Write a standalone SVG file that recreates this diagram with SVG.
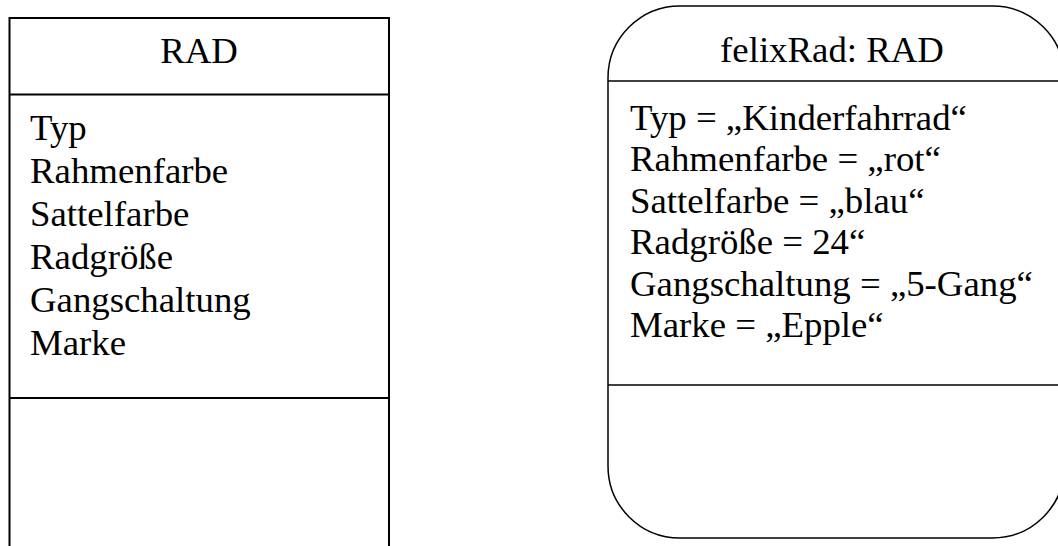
<svg xmlns="http://www.w3.org/2000/svg" width="1058" height="546" viewBox="0 0 1058 546">
<style>
.t{font-family:"Liberation Serif","Times New Roman",serif;font-size:36.8px;fill:#000}
.c{text-anchor:middle}
.b{fill:#fff;stroke:#000}
.l{stroke:#000;fill:none}
</style>
<rect width="1058" height="546" fill="#fff"/>
<g id="class-rad">
<path class="b" stroke-width="2" d="M9.5,546 V18 H389 V546"/>
<line class="l" stroke-width="2" x1="9.5" y1="94.5" x2="389" y2="94.5"/>
<line class="l" stroke-width="2" x1="9.5" y1="398" x2="389" y2="398"/>
<text class="t c" x="199" y="62.5">RAD</text>
<text class="t" x="30" y="140">Typ</text>
<text class="t" x="30" y="183">Rahmenfarbe</text>
<text class="t" x="30" y="226">Sattelfarbe</text>
<text class="t" x="30" y="269">Radgröße</text>
<text class="t" x="30" y="312">Gangschaltung</text>
<text class="t" x="30" y="355">Marke</text>
</g>
<g id="object-felixrad">
<rect class="b" stroke-width="1.5" x="608" y="6" width="456.5" height="532" rx="72" ry="72"/>
<line class="l" stroke-width="1.5" x1="608" y1="81" x2="1064.5" y2="81"/>
<line class="l" stroke-width="1.5" x1="608" y1="385" x2="1064.5" y2="385"/>
<text class="t c" x="832" y="61.5">felixRad: RAD</text>
<text class="t" x="630" y="129.5">Typ = „Kinderfahrrad“</text>
<text class="t" x="630" y="171">Rahmenfarbe = „rot“</text>
<text class="t" x="630" y="212.5">Sattelfarbe = „blau“</text>
<text class="t" x="630" y="254">Radgröße = 24“</text>
<text class="t" x="630" y="295.5">Gangschaltung = „5-Gang“</text>
<text class="t" x="630" y="337">Marke = „Epple“</text>
</g>
<g id="connectors"></g>
</svg>
